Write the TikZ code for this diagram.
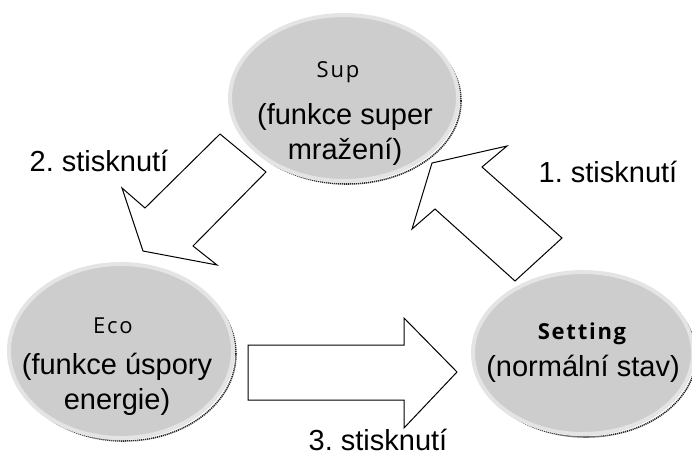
\documentclass[tikz,border=0pt]{standalone}
\usepackage{fontspec}
\setmainfont{Liberation Sans}
\newfontfamily\titlefont[LetterSpace=8]{Open Sans}
\usepackage{tikz}
\usetikzlibrary{shapes.geometric}
\usetikzlibrary{calc}
\definecolor{stategray}{HTML}{CDCDCD}
\definecolor{ringgray}{HTML}{E4E4E4}
\frenchspacing

\tikzset{
  state/.style={ellipse, fill=stategray, draw=ringgray, line width=4pt, inner sep=0pt},
  stateshadow/.style={ellipse, draw=black!85, line width=1.6pt,
    dash pattern=on 1.2pt off 0.8pt, inner sep=0pt},
  blockarrow/.style={draw=black, line width=1pt, fill=white, line join=miter},
  desc/.style={font=\fontsize{29}{35}\selectfont, align=center},
  title/.style={font=\titlefont\fontsize{22}{26}\selectfont},
  press/.style={font=\fontsize{29}{34}\selectfont}
}

\begin{document}
\begin{tikzpicture}[x=1pt, y=-1pt]
  \useasboundingbox (0,0) rectangle (692,458);

  % Stavy (stin a elipsa)
  \node[stateshadow, minimum width=228pt, minimum height=166pt] (supshadow) at (347,101) {};
  \node[state, minimum width=228pt, minimum height=166pt] (sup) at (344,98) {};
  \node[stateshadow, minimum width=224pt, minimum height=174pt] (ecoshadow) at (124,354) {};
  \node[state, minimum width=224pt, minimum height=174pt] (eco) at (121,351) {};
  \node[stateshadow, minimum width=220pt, minimum height=162pt] (settingshadow) at (586,356) {};
  \node[state, minimum width=220pt, minimum height=162pt] (setting) at (583,353) {};

  % Texty ve stavech
  \node[title] (suptitle) at (338,72) {Sup};
  \node[desc] (supdesc) at (345,134) {(funkce super\\mražení)};
  \node[title] (ecotitle) at (113,326) {Eco};
  \node[desc] (ecodesc) at (117,384) {(funkce úspory\\energie)};
  \node[title, font=\titlefont\bfseries\fontsize{22}{26}\selectfont] (settingtitle) at (582,334) {Setting};
  \node[desc] (settingdesc) at (583,369) {(normální stav)};

  % Sipky
  \draw[blockarrow] (562,238) -- (515,281) -- (435,209) -- (412,229) -- (432,163)
    -- (507,146) -- (482,167) -- cycle;
  \draw[blockarrow] (220,134) -- (266,172) -- (193,246) -- (217,265) -- (143,251)
    -- (122,188) -- (145,208) -- cycle;
  \draw[blockarrow] (248,345) -- (404,345) -- (404,318) -- (457,372) -- (404,428)
    -- (404,400) -- (248,400) -- cycle;

  % Popisky sipek
  \node[press] (press1) at (608,172) {1. stisknutí};
  \node[press] (press2) at (99,161) {2. stisknutí};
  \node[press] (press3) at (378,440) {3. stisknutí};
\end{tikzpicture}
\end{document}
